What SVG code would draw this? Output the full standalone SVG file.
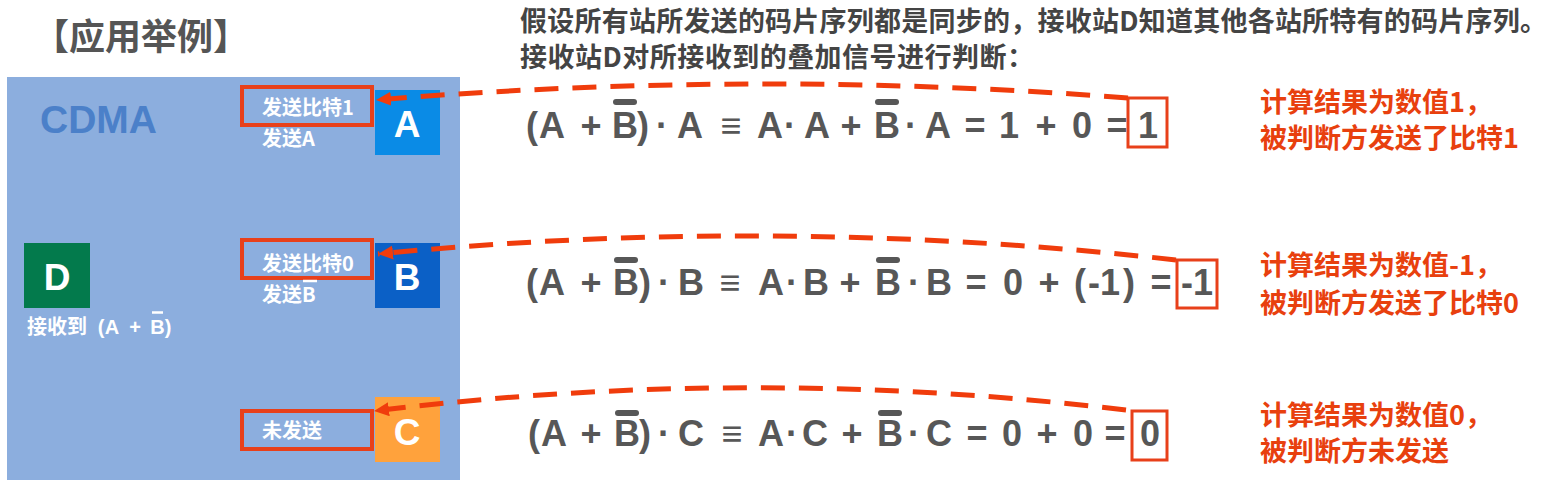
<svg xmlns="http://www.w3.org/2000/svg" width="1557" height="480" viewBox="0 0 1557 480">
<style>
.cjk{font-family:"Noto Sans CJK SC","Noto Sans",sans-serif;font-weight:bold}
.lat{font-family:"Liberation Sans","DejaVu Sans",sans-serif;font-weight:bold}
.eq{font-family:"Liberation Sans","DejaVu Sans",sans-serif;font-weight:bold;font-size:36px;fill:#575757;text-anchor:middle}
.wt{fill:#ffffff}
.red{fill:#e8400e;font-size:27px}
.lbl{fill:none;stroke:#e8401a;stroke-width:4}
.res{fill:none;stroke:#e8401a;stroke-width:3}
.bar{stroke:#575757;stroke-width:6;stroke-linecap:round}
.wbar{stroke:#ffffff;stroke-width:2.5}
.arc{fill:none;stroke:#f03c0c;stroke-width:5;stroke-dasharray:24 14;marker-end:url(#ah)}
.big{font-size:37px;text-anchor:middle}
</style>
<defs>
<marker id="ah" markerUnits="userSpaceOnUse" markerWidth="16" markerHeight="14" refX="15" refY="7" orient="auto">
<path d="M0,0 L15,7 L0,14 z" fill="#f03c0c"/>
</marker>
</defs>
<rect width="1557" height="480" fill="#ffffff"/>
<g id="title">
<text class="cjk" x="33" y="50" font-size="36" fill="#555555">【应用举例】</text>
</g>
<g id="note">
<text class="cjk" x="520" y="31" font-size="27" fill="#444444" textLength="1027" lengthAdjust="spacing">假设所有站所发送的码片序列都是同步的，接收站D知道其他各站所特有的码片序列。</text>
<text class="cjk" x="520" y="67" font-size="27" fill="#444444" textLength="514" lengthAdjust="spacing">接收站D对所接收到的叠加信号进行判断：</text>
</g>
<g id="panel">
<rect x="7" y="77" width="453" height="403" fill="#8caede"/>
<text class="lat" x="40" y="133" font-size="39" fill="#4b80c9">CDMA</text>
</g>
<g id="node-A">
<rect x="375" y="90" width="65" height="65" fill="#0a8be6"/>
<text class="lat wt big" x="407" y="137">A</text>
</g>
<g id="node-B">
<rect x="375" y="243" width="65" height="65" fill="#0b60c6"/>
<text class="lat wt big" x="407" y="290">B</text>
</g>
<g id="node-C">
<rect x="375" y="397" width="65" height="65" fill="#ffa23c"/>
<text class="lat wt big" x="407" y="445">C</text>
</g>
<g id="node-D">
<rect x="24" y="243" width="66" height="65" fill="#037a4c"/>
<text class="lat wt big" x="57" y="290">D</text>
<text class="cjk wt" x="27" y="334" font-size="20">接收到</text>
<text class="lat wt" y="334" font-size="20" text-anchor="middle"><tspan x="101">(</tspan><tspan x="112">A</tspan><tspan x="135">+</tspan><tspan x="157.5">B</tspan><tspan x="168">)</tspan></text>
<line class="wbar" x1="152" y1="312.5" x2="163" y2="312.5"/>
</g>
<g id="label-A">
<rect class="lbl" x="242" y="87" width="130" height="38"/>
<text class="cjk wt" x="262" y="115" font-size="20">发送比特1</text>
<text class="cjk wt" x="262" y="146" font-size="20">发送A</text>
</g>
<g id="label-B">
<rect class="lbl" x="242" y="240" width="130" height="38"/>
<text class="cjk wt" x="262" y="271" font-size="20">发送比特0</text>
<text class="cjk wt" x="262" y="302" font-size="20">发送B</text>
<line class="wbar" x1="303" y1="281" x2="317" y2="281"/>
</g>
<g id="label-C">
<rect class="lbl" x="242" y="411" width="130" height="38"/>
<text class="cjk wt" x="262" y="438" font-size="20">未发送</text>
</g>
<g id="equation-A">
<text class="eq" y="138"><tspan x="532">(</tspan><tspan x="552">A</tspan><tspan x="591">+</tspan><tspan x="625">B</tspan><tspan x="643">)</tspan><tspan x="662">·</tspan><tspan x="690">A</tspan><tspan x="731">≡</tspan><tspan x="770">A</tspan><tspan x="790">·</tspan><tspan x="817">A</tspan><tspan x="851">+</tspan><tspan x="887">B</tspan><tspan x="911">·</tspan><tspan x="938">A</tspan><tspan x="975">=</tspan><tspan x="1009">1</tspan><tspan x="1046">+</tspan><tspan x="1082">0</tspan><tspan x="1117">=</tspan><tspan x="1148">1</tspan></text>
<line class="bar" x1="616" y1="102" x2="634" y2="102"/>
<line class="bar" x1="878" y1="102" x2="896" y2="102"/>
<rect class="res" x="1128" y="98" width="39" height="49"/>
</g>
<g id="equation-B">
<text class="eq" y="295"><tspan x="532">(</tspan><tspan x="552">A</tspan><tspan x="591">+</tspan><tspan x="626">B</tspan><tspan x="645">)</tspan><tspan x="664">·</tspan><tspan x="691">B</tspan><tspan x="730">≡</tspan><tspan x="771">A</tspan><tspan x="792">·</tspan><tspan x="816">B</tspan><tspan x="850">+</tspan><tspan x="888">B</tspan><tspan x="914">·</tspan><tspan x="939">B</tspan><tspan x="976">=</tspan><tspan x="1013">0</tspan><tspan x="1049">+</tspan><tspan x="1080">(</tspan><tspan x="1104">-1</tspan><tspan x="1129">)</tspan><tspan x="1161">=</tspan><tspan x="1197">-1</tspan></text>
<line class="bar" x1="617" y1="260" x2="635" y2="260"/>
<line class="bar" x1="879" y1="260" x2="897" y2="260"/>
<rect class="res" x="1177" y="260" width="40" height="48"/>
</g>
<g id="equation-C">
<text class="eq" y="446"><tspan x="534">(</tspan><tspan x="554">A</tspan><tspan x="591">+</tspan><tspan x="627">B</tspan><tspan x="645">)</tspan><tspan x="664">·</tspan><tspan x="691">C</tspan><tspan x="732">≡</tspan><tspan x="771">A</tspan><tspan x="792">·</tspan><tspan x="815">C</tspan><tspan x="852">+</tspan><tspan x="890">B</tspan><tspan x="914">·</tspan><tspan x="939">C</tspan><tspan x="977">=</tspan><tspan x="1012">0</tspan><tspan x="1047">+</tspan><tspan x="1083">0</tspan><tspan x="1115">=</tspan><tspan x="1150">0</tspan></text>
<line class="bar" x1="618" y1="413" x2="636" y2="413"/>
<line class="bar" x1="881" y1="413" x2="899" y2="413"/>
<rect class="res" x="1132" y="411" width="35" height="49"/>
</g>
<g id="result-A">
<text class="cjk red" x="1260" y="112">计算结果为数值1，</text>
<text class="cjk red" x="1260" y="148">被判断方发送了比特1</text>
</g>
<g id="result-B">
<text class="cjk red" x="1260" y="275">计算结果为数值-1，</text>
<text class="cjk red" x="1260" y="313">被判断方发送了比特0</text>
</g>
<g id="result-C">
<text class="cjk red" x="1260" y="425">计算结果为数值0，</text>
<text class="cjk red" x="1260" y="461">被判断方未发送</text>
</g>
<g id="connectors">
<path class="arc" d="M1128,98 Q754,69 376,100"/>
<path class="arc" d="M1176,260 Q777,215 378,254"/>
<path class="arc" d="M1126,410 Q750,365 374,411"/>
</g>
</svg>
